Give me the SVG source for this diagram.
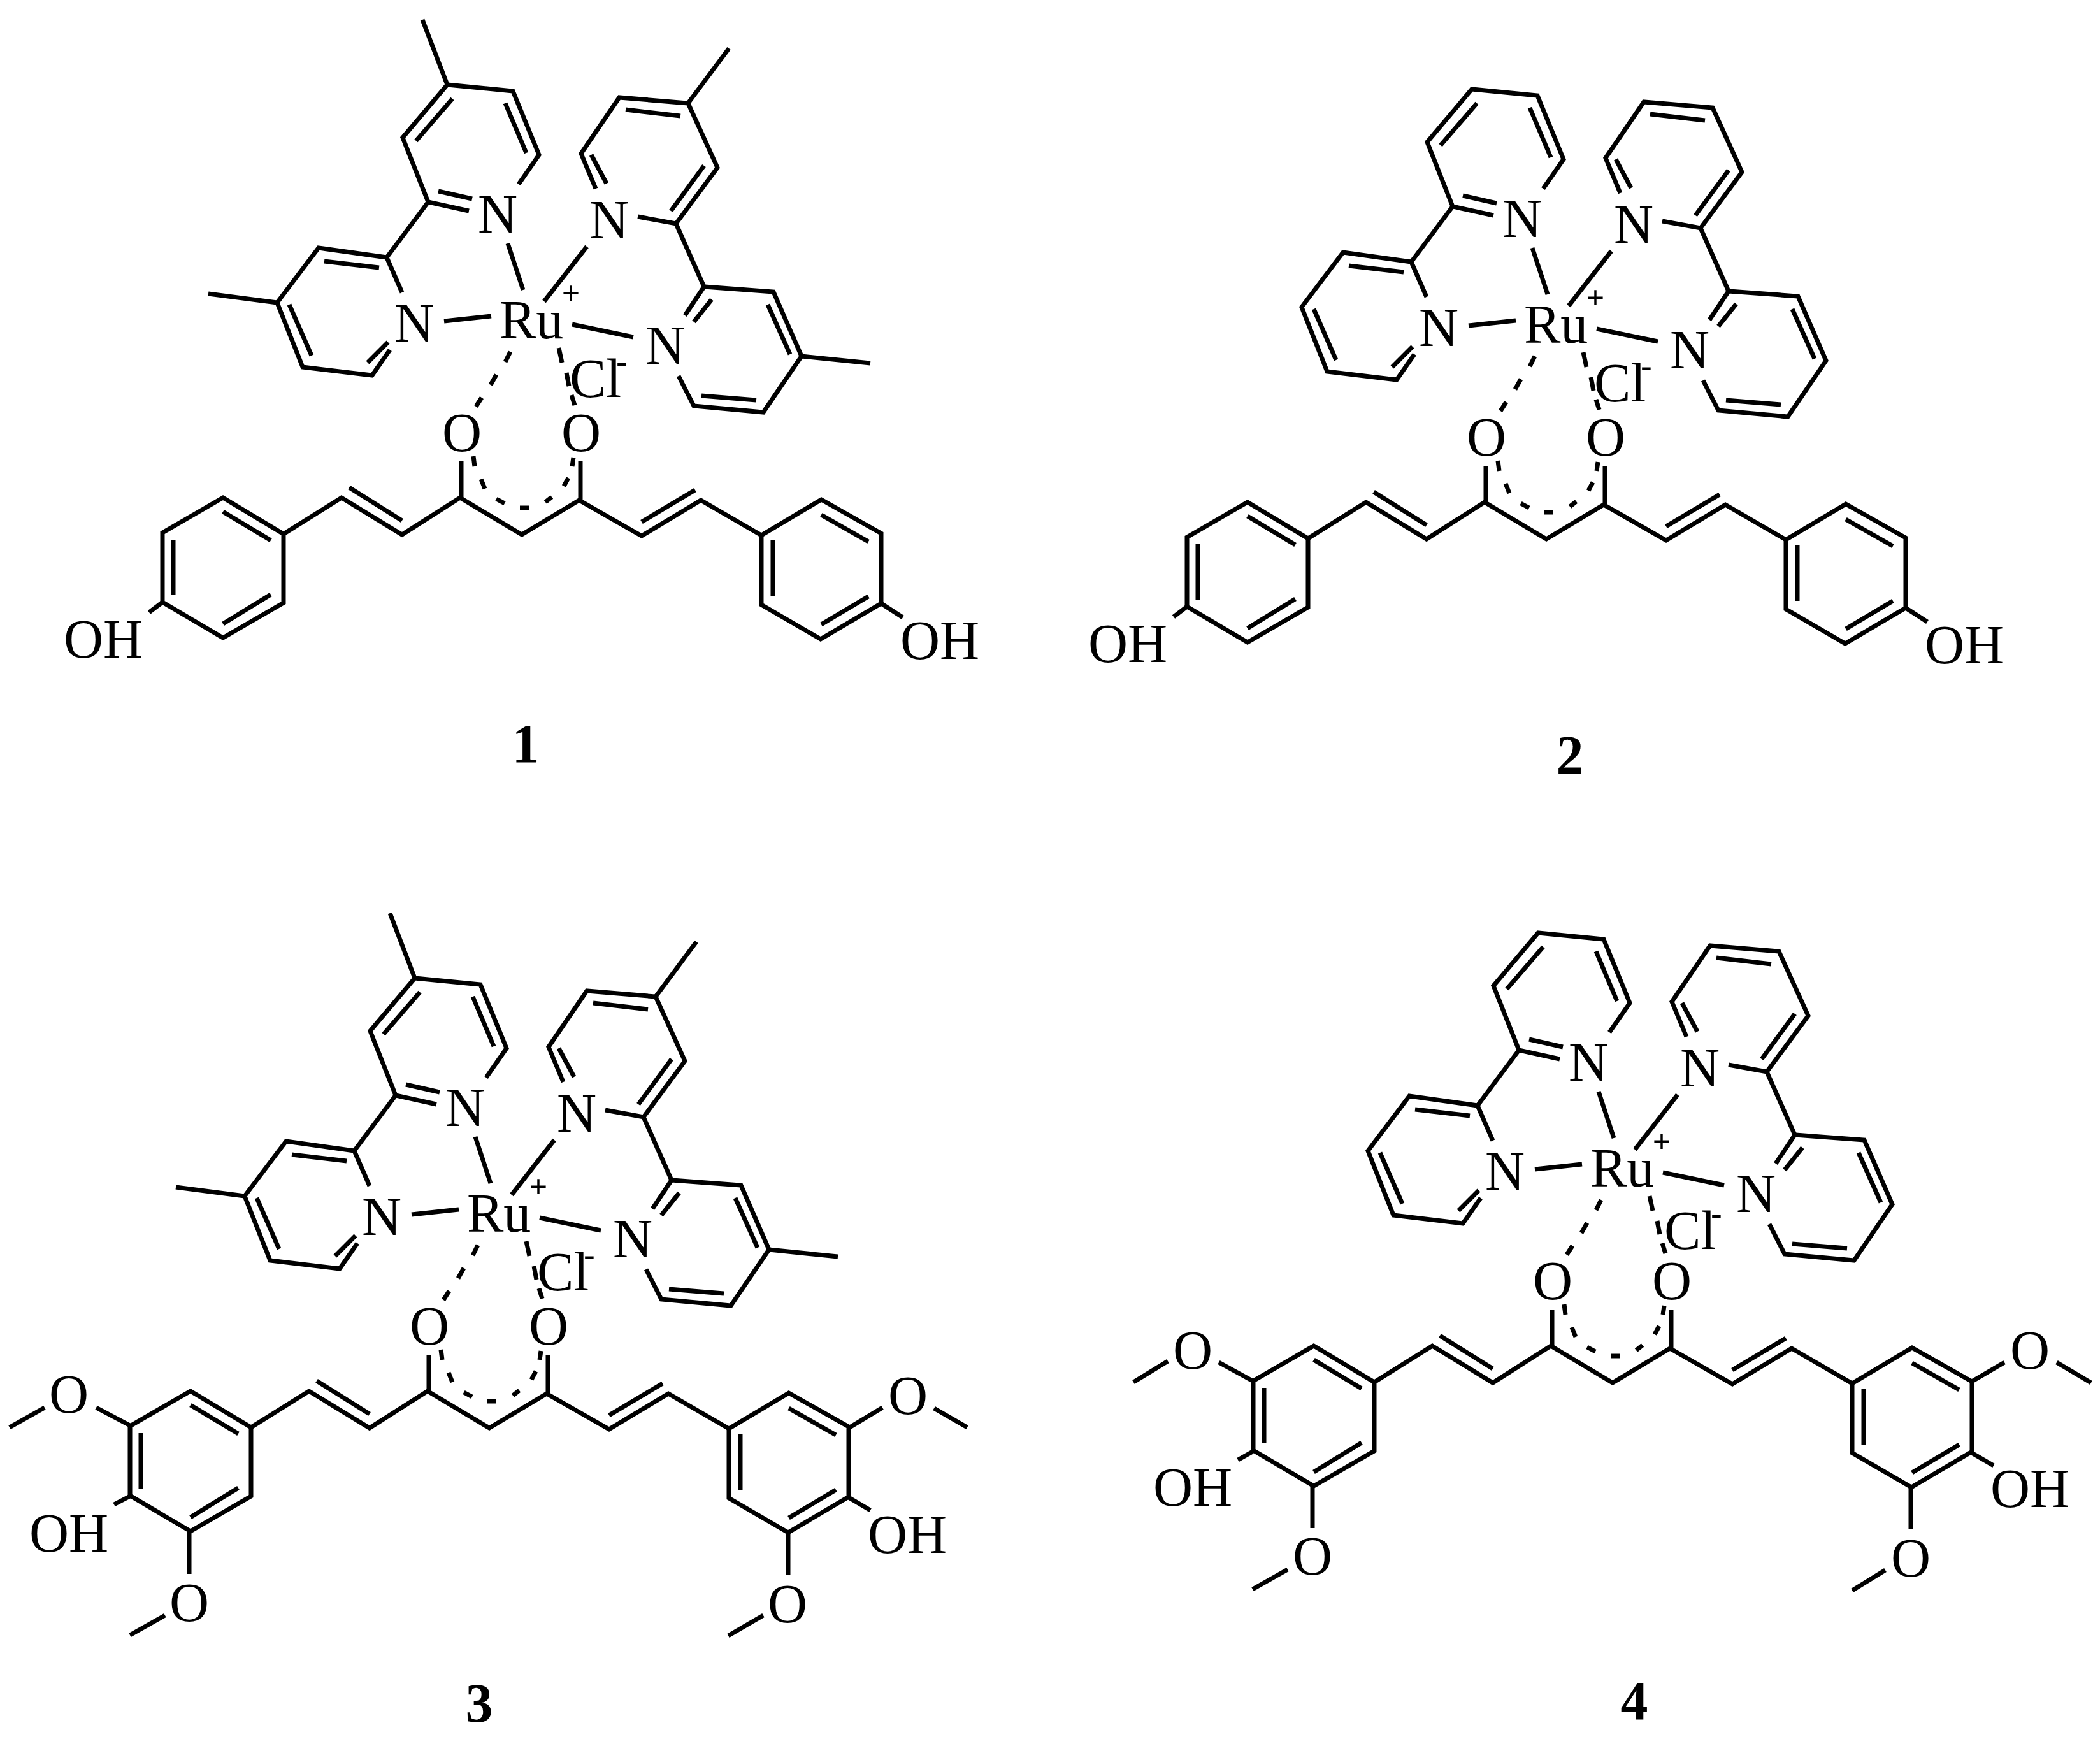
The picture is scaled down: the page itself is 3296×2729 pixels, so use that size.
<svg xmlns="http://www.w3.org/2000/svg" xmlns:xlink="http://www.w3.org/1999/xlink" width="3296" height="2729" viewBox="0 0 3296 2729">
<style>
.b{fill:none;stroke:#000;stroke-width:7;stroke-linecap:butt;stroke-linejoin:miter}
.t{font-family:"Liberation Serif","Times New Roman",serif;font-size:86px;fill:#000}
.m{text-anchor:middle}
.c{font-family:"Liberation Serif","Times New Roman",serif;font-size:50px;font-weight:bold;fill:#000;text-anchor:middle}
.s{font-size:52px;font-weight:bold}
.n{font-family:"Liberation Serif","Times New Roman",serif;font-size:86px;font-weight:bold;fill:#000;text-anchor:middle}
</style>
<defs>
<g id="bipy" class="b">
<path d="M814 289L846 243L805 143L702 133L632 216L672 317L736 331M710 155L653 221M793 162L826 240M688 300L741 312"/>
<path d="M672 317L607 404"/>
<path d="M631 459L607 404L500 389L435 475L475 576L584 589L612 549M509 410L595 420M454 478L489 558M577 569L609 537"/>
<path d="M935 296L912 241L972 153L1080 162L1126 263L1061 351L1001 340M928 243L952 288M982 172L1068 182M1105 260L1053 331"/>
<path d="M1061 351L1105 450"/>
<path d="M1075 495L1105 450L1214 458L1258 559L1198 647L1089 637L1065 590M1117 470L1089 505M1205 478L1240 556M1101 621L1187 628"/>
<path d="M797 382L821 455M697 504L771 496M921 387L854 473M898 509L994 529"/>
<path d="M801 552L793 568M779 588L770 604M756 624L747 638M877 546L882 569M889 585L893 606M897 620L902 636"/>
</g>
<path id="methyls" class="b" d="M702 133L663 31M1080 162L1144 76M435 475L327 461M1258 559L1366 570"/>
<g id="chain" class="b">
<path d="M255 836L350 781L445 838L445 946L350 1001L255 945ZM350 803L425 848M272 847L272 934M425 933L350 979"/>
<path d="M445 838L536 781L631 839L722 781L819 839L909 785L1007 841L1100 785L1195 840M548 765L631 817M1091 769L1007 819"/>
<path d="M1195 840L1289 784L1383 837L1383 947L1288 1003L1195 949ZM1289 808L1363 850M1213 848L1213 936M1363 936L1289 980"/>
<path d="M724 781L724 724M911 785L911 724"/>
<path d="M743 716L745 732M755 752L761 767M779 783L792 790M816 797L830 797M856 788L866 780M885 763L892 750M898 732L900 718"/>
</g>
<path id="ohb" class="b" d="M255 945L234 961M1383 947L1417 969"/>
</defs>

<g id="compound-1">
<use href="#bipy"/><use href="#methyls"/><use href="#chain"/><use href="#ohb"/>
<text class="t m" x="781" y="365">N</text><text class="t m" x="956" y="374">N</text><text class="t m" x="650" y="536">N</text><text class="t m" x="1044" y="571">N</text>
<text class="t" x="784" y="531">Ru</text><text class="c" x="896" y="477">+</text>
<text class="t" x="894" y="623">Cl<tspan class="s" dx="-8" dy="-39">-</tspan></text>
<text class="t m" x="725" y="708">O</text><text class="t m" x="912" y="708">O</text>
<text class="t" x="100" y="1032">OH</text><text class="t" x="1413" y="1034">OH</text>
<text class="n" x="825" y="1196">1</text>
</g>

<g id="compound-2">
<g transform="translate(1608 7)"><use href="#bipy"/><use href="#chain"/><use href="#ohb"/></g>
<text class="t m" x="2389" y="372">N</text><text class="t m" x="2564" y="381">N</text><text class="t m" x="2258" y="543">N</text><text class="t m" x="2652" y="578">N</text>
<text class="t" x="2392" y="538">Ru</text><text class="c" x="2504" y="484">+</text>
<text class="t" x="2502" y="630">Cl<tspan class="s" dx="-8" dy="-39">-</tspan></text>
<text class="t m" x="2333" y="715">O</text><text class="t m" x="2520" y="715">O</text>
<text class="t" x="1708" y="1039">OH</text><text class="t" x="3021" y="1041">OH</text>
<text class="n" x="2464" y="1214">2</text>
</g>

<g id="compound-3">
<g transform="translate(-51 1402)"><use href="#bipy"/><use href="#methyls"/><use href="#chain"/></g>
<path class="b" d="M204 2237L151 2209M70 2209L15 2240M204 2348L179 2361M297 2401L297 2470M259 2535L204 2566M1332 2241L1385 2209M1466 2210L1518 2240M1332 2350L1366 2370M1237 2404L1237 2472M1198 2535L1143 2567"/>
<text class="t m" x="730" y="1767">N</text><text class="t m" x="905" y="1776">N</text><text class="t m" x="599" y="1938">N</text><text class="t m" x="993" y="1973">N</text>
<text class="t" x="733" y="1933">Ru</text><text class="c" x="845" y="1879">+</text>
<text class="t" x="843" y="2025">Cl<tspan class="s" dx="-8" dy="-39">-</tspan></text>
<text class="t m" x="674" y="2110">O</text><text class="t m" x="861" y="2110">O</text>
<text class="t m" x="108" y="2217">O</text><text class="t" x="46" y="2435">OH</text><text class="t m" x="297" y="2544">O</text>
<text class="t m" x="1425" y="2219">O</text><text class="t" x="1362" y="2437">OH</text><text class="t m" x="1236" y="2546">O</text>
<text class="n" x="752" y="2702">3</text>
</g>

<g id="compound-4">
<g transform="translate(1712 1331)"><use href="#bipy"/><use href="#chain"/></g>
<path class="b" d="M1966 2167L1913 2138M1833 2136L1779 2169M1966 2278L1943 2291M2060 2331L2060 2398M2021 2463L1966 2494M3093 2169L3146 2138M3228 2138L3282 2170M3093 2279L3129 2300M2999 2331L2999 2400M2959 2464L2907 2496"/>
<text class="t m" x="2493" y="1696">N</text><text class="t m" x="2668" y="1705">N</text><text class="t m" x="2362" y="1867">N</text><text class="t m" x="2756" y="1902">N</text>
<text class="t" x="2496" y="1862">Ru</text><text class="c" x="2608" y="1808">+</text>
<text class="t" x="2612" y="1960">Cl<tspan class="s" dx="-8" dy="-39">-</tspan></text>
<text class="t m" x="2437" y="2039">O</text><text class="t m" x="2624" y="2039">O</text>
<text class="t m" x="1872" y="2148">O</text><text class="t" x="1810" y="2363">OH</text><text class="t m" x="2060" y="2471">O</text>
<text class="t m" x="3186" y="2148">O</text><text class="t" x="3124" y="2365">OH</text><text class="t m" x="2999" y="2474">O</text>
<text class="n" x="2565" y="2698">4</text>
</g>
</svg>
